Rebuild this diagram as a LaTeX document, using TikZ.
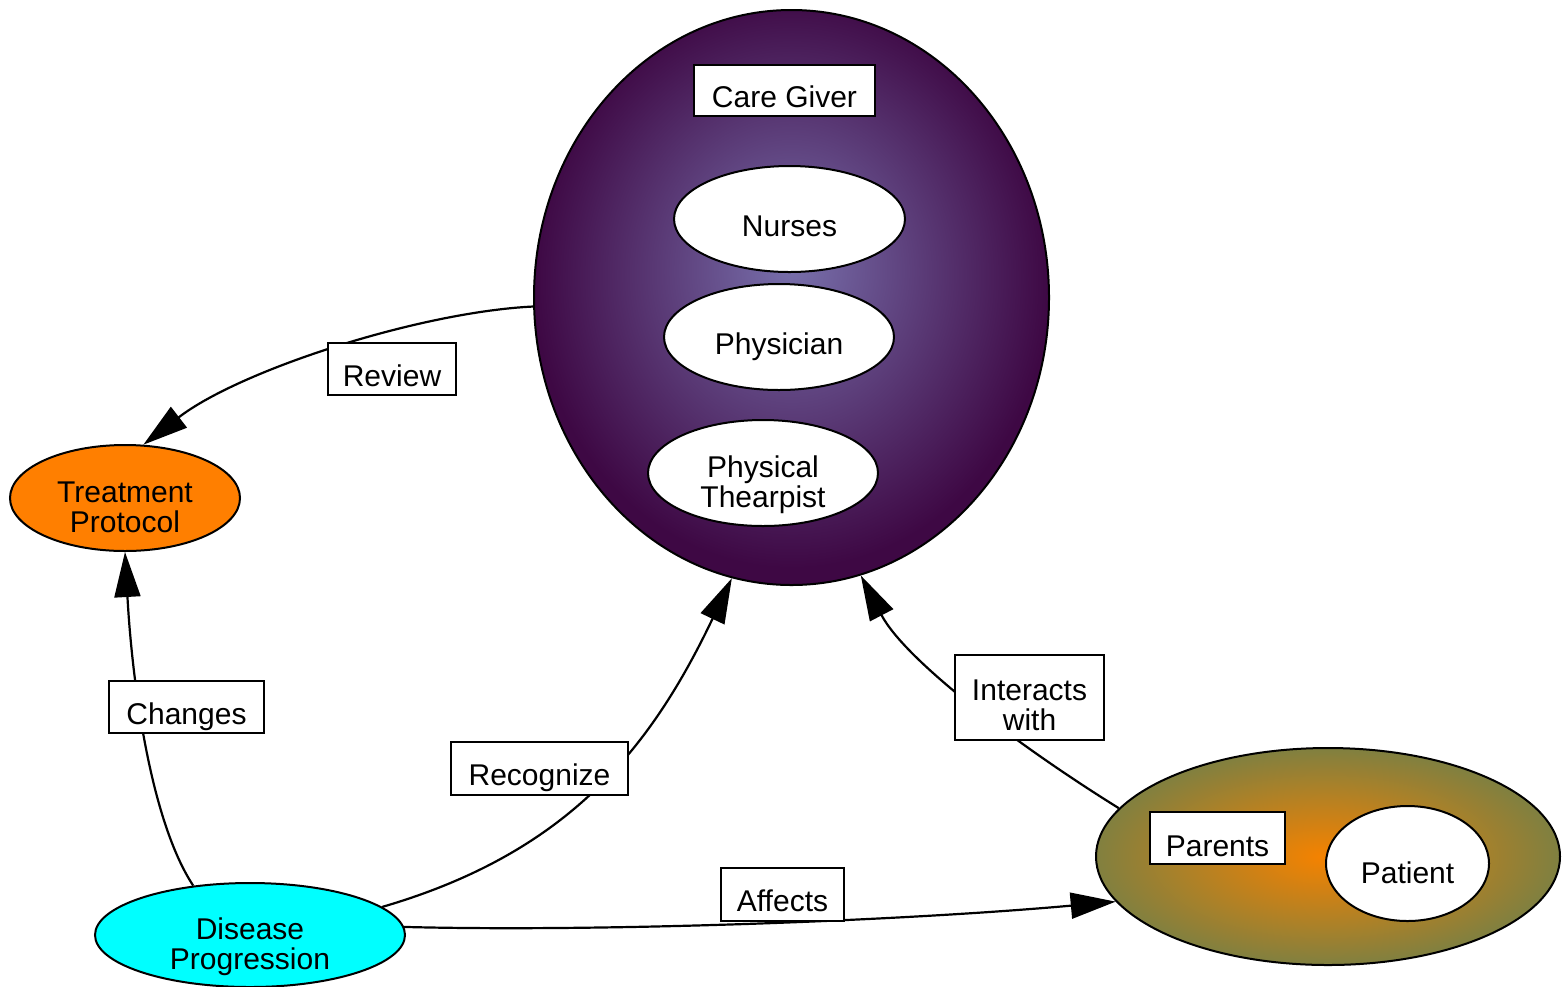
\documentclass[tikz,border=0pt]{standalone}
\usepackage{fontspec}
\setmainfont{Liberation Sans}
\usetikzlibrary{shapes.geometric,arrows.meta}
\definecolor{cgin}{RGB}{120,112,172}
\definecolor{cgout}{RGB}{62,8,68}
\definecolor{fmin}{RGB}{245,130,0}
\definecolor{fmout}{RGB}{128,128,64}
\definecolor{treatorange}{RGB}{255,127,0}
\definecolor{diseasecyan}{RGB}{0,255,255}
\pgfdeclareradialshading{cgshade}{\pgfpoint{0bp}{3bp}}{color(0bp)=(cgin); color(25bp)=(cgout); color(50bp)=(cgout)}
\pgfdeclareradialshading{fmshade}{\pgfpoint{-0.5bp}{0bp}}{color(0bp)=(fmin); color(25bp)=(fmout); color(50bp)=(fmout)}
\newcommand\oneline[2][17pt]{\raisebox{-#1}{#2}}
\newcommand\twolines[3]{\raisebox{-#3}{\begin{tabular}[t]{@{}c@{}}#1\\#2\end{tabular}}}
\tikzset{
  lblbox/.style={rectangle, draw, fill=white, line width=2pt, inner sep=0pt, text height=0pt, text depth=0pt},
  ovalnode/.style={ellipse, draw, line width=2pt, inner sep=0pt, text height=0pt, text depth=0pt},
  clusternode/.style={ellipse, draw, line width=2pt, inner sep=0pt},
  conn/.style={line width=2.2pt, -{Triangle[length=45pt,width=26pt]}}
}
\begin{document}
\begin{tikzpicture}[x=1pt, y=-1pt, font=\fontsize{30}{29}\selectfont]
\useasboundingbox (0,0) rectangle (1562,986);
% clusters
\node[clusternode, shading=cgshade, shade, minimum width=515pt, minimum height=575pt] (care) at (791.5,297.5) {};
\node[clusternode, shading=fmshade, shade, minimum width=464pt, minimum height=217pt] (fam) at (1328,856.5) {};
% nodes inside care cluster
\node[lblbox, minimum width=181pt, minimum height=51pt] (caregiver) at (784.5,90.5) {\oneline{Care Giver}};
\node[ovalnode, fill=white, minimum width=231pt, minimum height=106pt] (nurses) at (789.5,219) {\oneline{Nurses}};
\node[ovalnode, fill=white, minimum width=230pt, minimum height=106pt] (physician) at (779,337) {\oneline{Physician}};
\node[ovalnode, fill=white, minimum width=230pt, minimum height=106pt] (pt) at (763,473) {\twolines{Physical}{Thearpist}{4.5pt}};
% nodes inside family cluster
\node[lblbox, minimum width=135pt, minimum height=52pt] (parents) at (1217.5,838) {\oneline[18pt]{Parents}};
\node[ovalnode, fill=white, minimum width=163pt, minimum height=115pt] (patient) at (1407.5,863.5) {\oneline[20pt]{Patient}};
% other nodes
\node[ovalnode, fill=treatorange, minimum width=230pt, minimum height=106pt] (treat) at (125,498) {\twolines{Treatment}{Protocol}{4.5pt}};
\node[ovalnode, fill=diseasecyan, minimum width=310pt, minimum height=104pt] (dis) at (250,935) {\twolines{Disease}{Progression}{4.5pt}};
% connectors
\draw[conn] (care.182) .. controls (420,312) and (240,370) .. (treat.71);
\draw[conn] (dis.139) .. controls (150,820) and (132,680) .. (treat.south);
\draw[conn] (dis.12) .. controls (567,853) and (650,750) .. (care.258);
\draw[conn] (fam.167) .. controls (1017,745) and (905,660) .. (care.284);
\draw[conn] (dis.3) .. controls (600,932) and (900,921) .. (fam.192);
% edge labels
\node[lblbox, minimum width=128pt, minimum height=52pt] (review) at (392,369) {\oneline{Review}};
\node[lblbox, minimum width=155pt, minimum height=52pt] (changes) at (186.5,707) {\oneline{Changes}};
\node[lblbox, minimum width=177pt, minimum height=53pt] (recognize) at (539.5,768.5) {\oneline{Recognize}};
\node[lblbox, minimum width=149pt, minimum height=85pt] (interacts) at (1029.5,697.5) {\twolines{Interacts}{with}{3pt}};
\node[lblbox, minimum width=123pt, minimum height=53pt] (affects) at (782.5,894.5) {\oneline{Affects}};
\end{tikzpicture}
\end{document}
